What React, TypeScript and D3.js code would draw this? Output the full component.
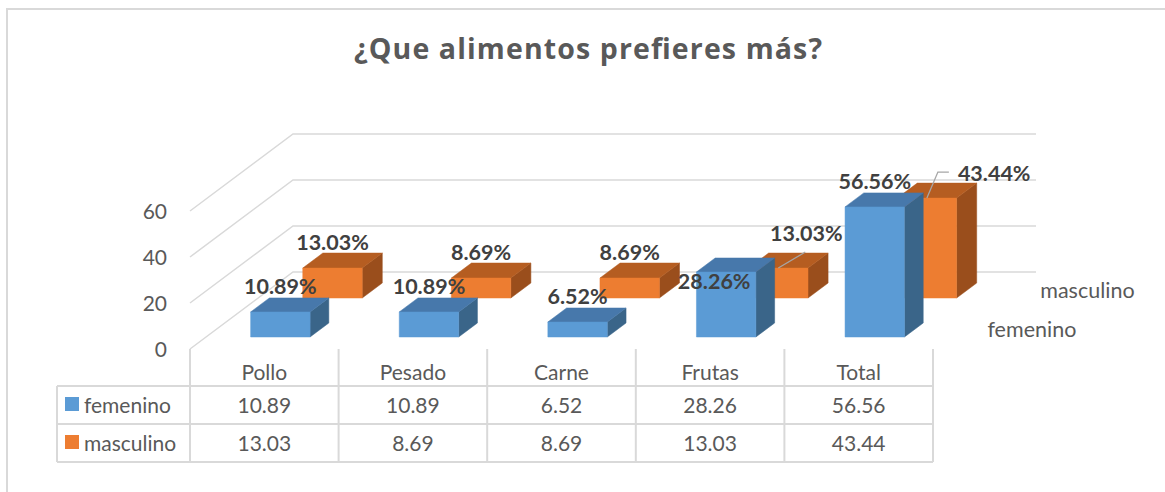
import React from "react";
import * as d3 from "d3";

const categories = ["Pollo", "Pesado", "Carne", "Frutas", "Total"];
const femenino = [10.89, 10.89, 6.52, 28.26, 56.56];
const masculino = [13.03, 8.69, 8.69, 13.03, 43.44];
const seriesNames = ["femenino", "masculino"];
const yTicks = [0, 20, 40, 60];
const title = "¿Que alimentos prefieres más?";

const W = 1165;
const H = 492;
const FONT = "Lato, 'Open Sans', sans-serif";
const TEXT = "#595959";
const GRID = "#D9D9D9";

const colors = [
  { front: "#5B9BD5", top: "#4778AB", side: "#3A6589" },
  { front: "#ED7D31", top: "#B55D21", side: "#9A4E1C" },
];

// projection
const DX = 103;
const DY = 77;
const x = d3.scaleBand<string>().domain(categories).range([190, 933]).paddingInner(0);
const y = d3.scaleLinear().domain([0, 60]).range([349, 211]);
// depth (0 front, 1 back) for each series row: [front, back]
const depth = d3.scaleOrdinal<string, [number, number]>()
  .domain(seriesNames)
  .range([[0.156, 0.338], [0.662, 0.857]]);

const P = (px: number, v: number, z: number): [number, number] => [px + z * DX, y(v) - z * DY];
const poly = (pts: [number, number][]) => pts.map((p) => p.join(",")).join(" ");

// special label placements (relative to top-front-center of bar)
type Special = { dx: number; dy: number; anchor?: string; leader?: [number, number][] };
const special: Record<string, Special> = {
  "femenino-3": { dx: -12, dy: 17 },
  "masculino-3": { dx: 28, dy: -27, leader: [[0, 0], [27, -16]] },
  "masculino-4": { dx: 31, dy: -17, anchor: "start", leader: [[0, 0], [11, -26], [22, -26]] },
};

export default function App() {
  const bw = x.bandwidth();
  const barW = bw * 0.4;
  const barOff = bw * 0.3;
  const seriesData = [femenino, masculino];

  const bars: React.ReactNode[] = [];
  const labels: React.ReactNode[] = [];
  // draw back row first
  [1, 0].forEach((si) => {
    const name = seriesNames[si];
    const [zf, zb] = depth(name);
    const c = colors[si];
    categories.forEach((cat, i) => {
      const v = seriesData[si][i];
      const x0 = (x(cat) as number) + barOff;
      const x1 = x0 + barW;
      const front = [P(x0, 0, zf), P(x1, 0, zf), P(x1, v, zf), P(x0, v, zf)];
      const top = [P(x0, v, zf), P(x1, v, zf), P(x1, v, zb), P(x0, v, zb)];
      const side = [P(x1, 0, zf), P(x1, v, zf), P(x1, v, zb), P(x1, 0, zb)];
      bars.push(
        <g key={`b-${name}-${i}`}>
          <polygon points={poly(side)} fill={c.side} stroke={c.side} strokeWidth={0.5} />
          <polygon points={poly(top)} fill={c.top} stroke={c.top} strokeWidth={0.5} />
          <polygon points={poly(front)} fill={c.front} stroke={c.front} strokeWidth={0.5} />
        </g>
      );
      const key = `${name}-${i}`;
      const sp = special[key];
      const ax = (x0 + x1) / 2 + zf * DX;
      const ay = y(v) - zf * DY;
      const txt = `${v.toFixed(2)}%`;
      if (sp) {
        labels.push(
          <g key={`l-${key}`}>
            {sp.leader && (
              <polyline
                points={poly(sp.leader.map(([a, b]) => [ax + a, ay + b] as [number, number]))}
                fill="none"
                stroke="#A6A6A6"
                strokeWidth={1.3}
              />
            )}
            <text x={ax + sp.dx} y={ay + sp.dy} textAnchor={sp.anchor || "middle"}
              fontFamily={FONT} fontWeight={700} fontSize={21.5} fill="#404040">{txt}</text>
          </g>
        );
      } else {
        const backTop = y(v) - zb * DY;
        labels.push(
          <text key={`l-${key}`} x={ax} y={backTop - 3.5} textAnchor="middle"
            fontFamily={FONT} fontWeight={700} fontSize={21.5} fill="#404040">{txt}</text>
        );
      }
    });
  });

  const xL = 190;
  const xR = 933;
  const rowLines = [386, 424, 462];

  return (
    <div style={{ position: "absolute", left: 0, top: 0, width: W, height: H, overflow: "hidden", background: "#fff" }}>
      <svg width={W} height={H} style={{ display: "block" }}>
        <rect x={0} y={0} width={W} height={H} fill="#fff" />
        <rect x={7} y={9} width={W + 20} height={H + 20} fill="none" stroke={GRID} strokeWidth={2} />
        <text x={588} y={59} textAnchor="middle" fontFamily="'Open Sans', Lato, sans-serif" fontWeight={700} fontSize={28.5}
          textLength={468} lengthAdjust="spacing" fill={TEXT}>
          {title}
        </text>

        {/* gridlines: left side wall diagonal + back wall horizontal */}
        {yTicks.map((t) => {
          const a = P(xL, t, 0);
          const b = P(xL, t, 1);
          return (
            <polyline key={`g-${t}`} points={poly([a, b, [xR + DX, b[1]]])} fill="none" stroke={GRID} strokeWidth={1.5} />
          );
        })}
        {yTicks.map((t) => (
          <text key={`t-${t}`} x={167} y={y(t) + 8} textAnchor="end" fontFamily={FONT} fontSize={21} fill={TEXT}>
            {t}
          </text>
        ))}

        {bars}

        {/* depth axis labels */}
        {seriesNames.map((s) => {
          const [zf, zb] = depth(s);
          const zc = (zf + zb) / 2;
          const p = P(xR, 0, zc);
          return (
            <text key={`d-${s}`} x={p[0] + 29} y={p[1] + 7} fontFamily={FONT} fontSize={21.5} fill={TEXT}>
              {s}
            </text>
          );
        })}

        {labels}

        {/* data table */}
        <g>
          {rowLines.map((ry) => (
            <line key={`r-${ry}`} x1={57} x2={xR} y1={ry} y2={ry} stroke={GRID} strokeWidth={2} />
          ))}
          <line x1={57} x2={57} y1={386} y2={462} stroke={GRID} strokeWidth={2} />
          {[...categories.map((c) => x(c) as number), xR].map((vx, i) => (
            <line key={`v-${i}`} x1={vx} x2={vx} y1={349} y2={462} stroke={GRID} strokeWidth={2} />
          ))}
          {categories.map((c) => (
            <text key={`h-${c}`} x={(x(c) as number) + bw / 2} y={380} textAnchor="middle" fontFamily={FONT} fontSize={21} fill={TEXT}>
              {c}
            </text>
          ))}
          {seriesNames.map((s, si) => {
            const by = si === 0 ? 413 : 451;
            return (
              <g key={`row-${s}`}>
                <rect x={65} y={by - 16} width={14} height={14} fill={colors[si].front} />
                <text x={84} y={by} fontFamily={FONT} fontSize={21} fill={TEXT}>{s}</text>
                {categories.map((c, i) => (
                  <text key={`c-${s}-${i}`} x={(x(c) as number) + bw / 2} y={by} textAnchor="middle" fontFamily={FONT} fontSize={21} fill={TEXT}>
                    {seriesData[si][i].toFixed(2)}
                  </text>
                ))}
              </g>
            );
          })}
        </g>
      </svg>
    </div>
  );
}
